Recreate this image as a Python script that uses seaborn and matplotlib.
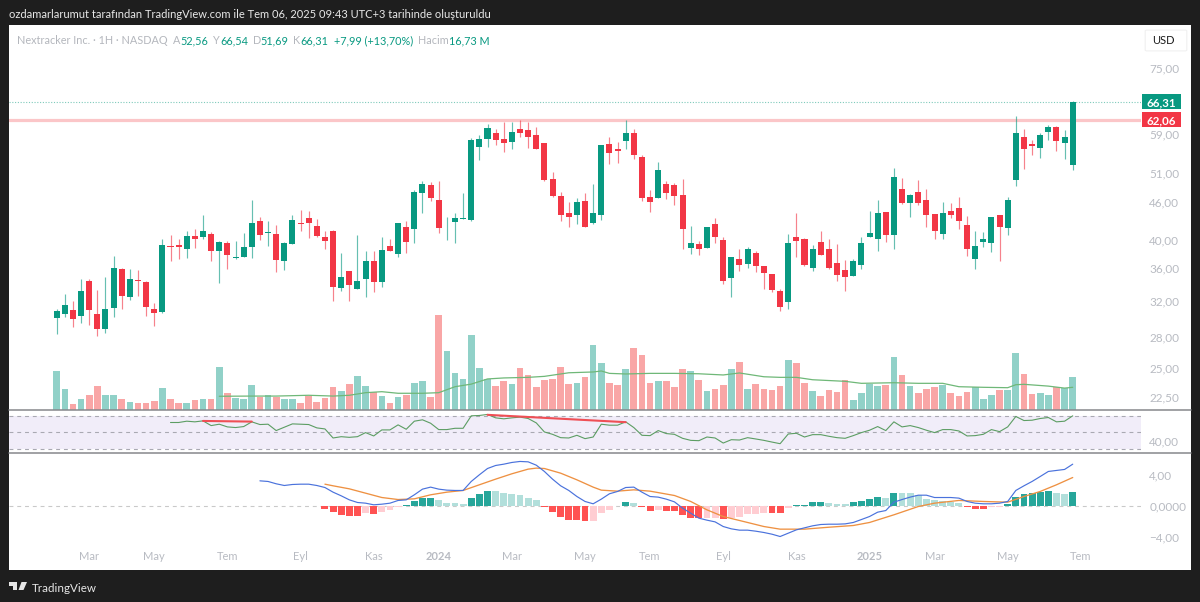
import numpy as np
import pandas as pd
import seaborn as sns
import matplotlib
matplotlib.use("Agg")
import matplotlib.pyplot as plt
from matplotlib.lines import Line2D
from matplotlib.patches import Polygon, FancyBboxPatch, Rectangle
from matplotlib.ticker import NullFormatter, NullLocator

# ---------------- data (weekly candles) ----------------
opens = [30.03,30.47,30.92,30.25,34.35,30.47,28.88,31.15,35.98,32.39,34.52,34.26,31.0,30.7,39.09,39.18,38.71,40.54,40.44,40.84,
 38.42,39.47,37.45,37.59,38.99,42.8,41.05,40.84,37.05,39.37,42.47,43.3,42.06,40.34,41.24,33.5,35.63,33.43,34.6,37.05,
 34.26,39.09,37.95,41.95,41.54,47.5,48.92,46.25,41.85,42.67,43.15,43.0,56.2,57.9,59.2,57.75,57.2,60.05,59.76,58.6,
 57.05,50.0,46.94,44.15,43.83,46.0,42.47,43.72,56.8,55.8,57.45,59.05,54.2,46.82,46.6,49.04,48.92,47.05,38.8,39.37,
 38.8,42.37,39.95,34.77,37.32,36.59,38.05,36.32,35.27,33.19,31.84,40.44,40.05,36.06,39.66,38.71,36.68,35.8,35.0,36.5,
 40.44,40.15,44.25,40.63,48.1,45.8,47.6,46.25,43.94,40.84,44.48,44.9,42.26,37.23,39.66,39.57,43.83,41.75,49.77,58.32,
 56.8,55.95,59.3,60.5,57.05,52.56]
highs = [31.0,32.8,31.92,34.69,34.69,33.27,34.94,37.68,36.06,35.89,35.8,34.43,31.77,40.05,40.63,40.15,41.24,41.54,43.72,41.14,
 39.86,39.86,39.86,41.04,46.18,43.51,42.9,42.16,39.66,43.83,44.59,44.37,43.09,41.34,41.44,38.15,35.63,40.63,38.33,38.42,
 40.44,40.15,42.47,42.89,47.98,49.53,49.41,49.53,43.51,44.15,47.4,57.97,58.75,61.1,60.05,61.5,61.5,61.95,61.5,60.5,
 57.05,51.25,47.6,45.9,46.6,47.4,49.04,56.65,58.2,57.2,61.95,60.05,54.6,47.98,53.15,49.65,49.28,49.9,42.06,39.76,
 41.95,43.3,40.34,37.5,38.62,38.99,38.42,36.32,35.27,33.43,40.84,44.05,40.24,39.18,41.24,40.05,39.37,37.13,37.22,40.34,
 44.37,46.18,44.25,52.0,50.15,47.3,49.77,48.22,43.94,45.9,45.8,46.7,43.62,41.24,41.14,43.51,43.83,46.7,62.9,59.9,
 57.6,59.2,60.95,60.65,59.76,66.54]
lows = [28.33,30.1,29.0,29.5,29.3,28.1,28.4,30.1,31.07,32.08,32.55,30.25,29.1,30.62,37.05,37.32,37.41,38.8,40.15,37.05,
 34.09,35.98,37.22,37.59,37.41,39.95,39.13,35.53,35.8,39.37,41.24,40.24,40.34,38.71,31.99,33.19,31.99,33.35,32.47,33.03,
 33.68,38.33,37.59,38.05,39.57,44.05,46.03,40.94,39.95,39.57,43.09,42.9,53.5,56.1,56.5,55.1,55.65,58.2,55.95,55.65,
 49.5,46.7,42.9,41.85,42.37,41.95,42.37,43.0,52.75,53.0,55.8,53.65,46.03,44.25,46.6,46.48,45.35,38.71,37.95,37.77,
 38.8,39.57,34.0,32.47,35.72,36.06,35.53,33.35,33.03,30.77,31.0,37.59,36.25,35.72,37.86,35.89,34.35,33.11,35.0,35.98,
 40.34,38.42,39.66,38.71,45.6,43.51,45.46,41.85,40.05,40.05,43.3,41.65,37.68,35.89,38.9,38.24,36.95,40.63,48.68,51.9,
 54.6,53.9,57.6,55.4,53.8,51.69]
closes = [30.85,31.45,29.96,33.19,30.92,28.88,31.0,36.06,32.55,34.69,34.35,31.23,30.62,39.18,39.0,38.9,40.54,40.05,41.24,38.33,
 39.66,37.77,37.59,38.9,42.57,40.63,41.2,37.13,39.47,43.0,42.37,42.47,40.54,39.86,33.68,34.94,33.86,34.43,37.05,34.26,
 38.52,38.42,42.47,39.66,47.62,49.04,46.6,41.75,41.95,43.3,43.3,57.6,57.9,60.2,57.6,57.05,59.3,59.2,58.2,55.8,
 49.77,46.9,43.72,43.51,45.9,41.95,44.05,56.65,54.9,55.25,59.05,54.45,46.6,45.9,51.62,47.5,46.94,41.65,39.57,38.71,
 41.95,40.34,34.35,37.5,36.41,38.71,36.32,35.36,33.27,31.23,39.47,39.86,36.5,38.71,37.86,36.06,35.12,34.85,37.05,39.47,
 40.94,44.05,40.74,50.25,45.69,47.17,45.69,43.72,41.24,44.15,43.83,42.9,38.71,39.09,40.15,43.51,41.95,46.18,59.2,55.65,
 56.4,58.75,60.5,57.35,58.2,66.31]
volumes = [19.7,10.4,3.0,5.7,7.7,12.0,7.7,7.4,5.7,4.0,3.3,3.7,4.5,11.0,5.5,3.3,3.3,5.2,5.7,5.7,
 21.7,8.7,6.0,5.7,12.7,6.7,7.7,6.4,5.4,5.4,3.7,7.0,4.0,6.0,11.7,9.5,13.0,17.1,12.0,9.0,
 7.0,3.3,6.7,7.4,13.4,14.7,6.4,47.8,29.4,18.4,15.7,37.5,21.1,15.7,12.0,14.4,13.0,21.1,17.4,11.4,
 15.1,15.4,21.4,13.0,13.4,16.7,32.5,23.8,13.4,12.7,20.4,31.1,27.8,13.7,14.4,14.7,11.4,20.4,19.4,15.1,
 9.5,10.7,12.7,20.6,24.1,10.4,13.0,10.7,10.0,12.0,25.1,23.4,13.4,9.4,7.0,10.0,9.0,15.1,5.0,8.7,
 13.0,12.0,12.4,26.4,17.7,12.0,8.7,10.4,11.4,12.7,8.7,7.0,9.0,11.4,5.7,7.4,10.0,10.0,28.8,18.1,
 8.0,8.4,7.7,11.4,11.0,16.73]
vol_ma_weeks = [21,25,28,32,35,37,39,41,43,46,48,50,52,54,56,59,61,64,67,68,69,71,74,77,80,83,85,88,90,92,94,98,100,104,107,110,112,115,118,119,120,123,125,126]
vol_ma = [6.9,7.0,7.0,7.4,7.0,7.4,8.7,9.2,8.4,8.4,8.7,11.7,13.0,15.6,16.1,16.4,16.9,18.7,19.1,19.6,18.4,18.1,18.4,18.4,18.2,17.6,18.6,16.7,16.4,16.4,15.2,14.4,13.4,13.7,13.4,13.4,11.7,11.4,11.2,12.7,12.9,12.0,11.0,11.4]

rsi_start = 15
rsi = [62.0,62.0,63.6,62.8,64.0,58.2,59.9,56.6,55.8,57.0,62.8,59.5,59.9,52.1,56.2,60.3,59.9,59.5,55.4,54.1,
 43.0,44.6,43.8,44.6,49.6,45.5,52.9,52.9,59.1,53.7,63.6,65.3,61.1,53.3,53.3,54.9,54.9,70.2,70.6,71.9,
 67.7,66.5,67.7,68.6,66.9,61.5,50.4,47.5,43.4,43.0,46.3,42.2,44.2,59.9,58.7,58.7,62.8,55.8,46.3,45.9,
 52.1,48.4,47.5,42.6,40.1,39.7,44.2,43.0,36.8,40.9,40.5,43.4,41.8,40.1,38.0,36.0,47.9,48.8,44.2,47.1,
 47.1,45.1,43.4,42.6,45.9,49.6,52.5,57.0,52.1,62.8,56.6,58.2,55.8,52.5,49.6,53.3,53.3,51.6,45.5,45.9,
 47.5,53.3,50.8,56.6,69.4,64.4,64.8,66.9,68.1,62.8,63.6,70.2]
rsi_trend_a = ([19, 25], [63.9, 63.1])
rsi_trend_b = ([54, 71], [71.4, 62.4])

macd_start = 26
macd = [3.18,3.10,2.80,2.58,2.71,2.75,2.75,2.58,2.32,1.72,1.25,.73,.39,.30,.09,.17,.30,.65,.73,1.38,
 2.11,2.37,2.11,1.98,1.94,1.94,3.10,3.96,4.77,5.16,5.33,5.55,5.68,5.63,5.20,4.39,3.40,2.54,1.94,1.16,
 .52,.22,.82,1.51,1.81,2.32,2.37,1.72,1.16,1.08,.82,.47,-.34,-.99,-1.63,-1.89,-2.11,-2.71,-3.01,-3.18,
 -3.18,-3.31,-3.48,-3.70,-4.0,-3.57,-3.14,-2.88,-2.62,-2.45,-2.41,-2.41,-2.37,-2.19,-1.81,-1.42,-.86,-.65,.43,.77,
 1.08,1.33,1.33,1.03,1.03,1.03,.95,.52,.30,.22,.22,.30,.52,1.94,2.54,3.10,3.74,4.39,4.52,4.65,5.33]
signal_weeks = [34,35,37,39,41,43,45,47,49,51,53,55,57,59,60,61,63,65,67,68,70,72,74,77,79,81,83,86,88,90,93,96,99,101,104,107,109,112,115,118,120,122,124,126]
signal = [2.75,2.54,2.15,1.59,1.03,.77,.86,1.38,1.72,1.94,2.67,3.40,4.09,4.69,4.82,4.77,4.17,3.31,2.37,1.98,1.85,2.02,1.85,1.29,.52,-.56,-1.42,-2.19,-2.71,-3.05,-3.05,-2.80,-2.58,-2.19,-1.20,-.13,.30,.65,.52,.43,1.16,1.81,2.67,3.61]
hist_start = 34
hist = [-.47,-.90,-1.20,-1.33,-1.38,-1.03,-1.08,-.82,-.56,-.13,.02,.52,.99,1.03,.65,.34,.26,.17,1.03,1.42,
 1.85,1.81,1.55,1.46,1.29,1.03,.65,-.17,-.90,-1.51,-1.85,-1.89,-2.06,-2.02,-1.03,-.52,-.04,.39,.34,-.22,
 -.69,-.60,-.73,-.77,-1.20,-1.55,-1.63,-1.57,-1.55,-1.76,-1.59,-1.51,-1.12,-1.10,-.95,-.99,-1.03,-.34,.04,.09,
 .39,.47,.34,.22,.19,.39,.56,.82,1.16,.99,1.63,1.61,1.59,1.29,.86,.65,.52,.43,.34,-.13,
 -.39,-.47,-.22,-.17,.17,1.12,1.46,1.63,1.76,1.89,1.63,1.46,1.76]

resistance = 62.06
last_close = 66.31
price_ticks = [75, 59, 51, 46, 40, 36, 32, 28, 25, 22.5]
rsi_ticks = [40]
macd_ticks = [4, 0, -4]
month_weeks = [5,13,22,31,40,48,57,66,74,83,92,101,109,118,127]
month_labels = ["Mar","May","Tem","Eyl","Kas","2024","Mar","May","Tem","Eyl","Kas","2025","Mar","May","Tem"]
title_text = "ozdamarlarumut tarafından TradingView.com ile Tem 06, 2025 09:43 UTC+3 tarihinde oluşturuldu"

# ---------------- style ----------------
UP, DOWN = "#089981", "#f23645"
VOL_UP, VOL_DOWN = "#91d1c8", "#f9a6a6"
H_UP, H_UP_L, H_DN, H_DN_L = "#26a69a", "#b2dfdb", "#ff5252", "#ffcdd2"
GREY = "#b8bbc2"
TICK_FS = 8.5
sns.set_theme(style="white")
plt.rcParams["font.family"] = ["Lato", "DejaVu Sans"]

W, H = 1200, 602
fig = plt.figure(figsize=(W / 100, H / 100), dpi=100, facecolor="#1e1e1e")
fx = lambda x: x / W
fy = lambda y: 1 - y / H
def pane(y0, y1):
    return fig.add_axes([fx(9), fy(y1), fx(1141 - 9), (y1 - y0) / H])

fig.add_artist(Rectangle((fx(9), fy(570)), fx(1191 - 9), 545 / H, transform=fig.transFigure, fc="white", ec="none", zorder=-5))

XLIM = (-4.87, 134.4)
ax = pane(25, 410)
ax_r = pane(411, 452.5)
ax_m = pane(453, 548)
weeks = np.arange(1, len(closes) + 1)
is_up = np.array(closes) >= np.array(opens)

# volume (own axis behind the candles)
ax_v = ax.twinx()
vdf = pd.DataFrame({"week": weeks, "vol": volumes, "dir": np.where(is_up, "u", "d")})
sns.barplot(data=vdf, x="week", y="vol", hue="dir", palette={"u": VOL_UP, "d": VOL_DOWN}, native_scale=True,
            dodge=False, width=0.82, saturation=1, errorbar=None, linewidth=0, legend=False, ax=ax_v)
sns.lineplot(x=vol_ma_weeks, y=vol_ma, color="#6fb878", lw=0.9, ax=ax_v)
ax_v.set_ylim(0, 193.4)
ax_v.set_xlim(*XLIM)
ax_v.axis("off")
ax.set_zorder(ax_v.get_zorder() + 1)
ax.patch.set_visible(False)

# candles
ax.set_yscale("log")
ax.set_ylim(21.43, 87.8)
ax.set_xlim(*XLIM)
cols = np.where(is_up, UP, DOWN)
ax.vlines(weeks, lows, highs, colors=cols, lw=0.85, alpha=0.62, zorder=3)
body_lo = np.minimum(opens, closes)
body_hi = np.maximum(opens, closes)
ax.bar(weeks, body_hi - body_lo, bottom=body_lo, width=0.74, color=cols, lw=0, zorder=4)
ax.axhline(resistance, color="#fbc6c8", lw=2.3, zorder=2)
ax.axhline(last_close, color="#7fcabb", lw=0.8, ls=(0, (1, 1.5)), zorder=2)

def right_axis(a, ticks, labels, colour=GREY):
    a.yaxis.tick_right()
    a.yaxis.set_minor_locator(NullLocator())
    a.yaxis.set_minor_formatter(NullFormatter())
    a.set_yticks(ticks)
    a.set_yticklabels(labels, color=colour, fontsize=TICK_FS, va="center_baseline")
    a.tick_params(axis="y", length=0, pad=6)
    for s in a.spines.values():
        s.set_visible(False)
    a.set_xticks([])

fmt = lambda v: f"{v:.2f}".replace(".", ",")
right_axis(ax, price_ticks, [fmt(v) for v in price_ticks])

# RSI
ax_r.set_xlim(*XLIM)
ax_r.set_ylim(25.2, 76.1)
ax_r.axhspan(30, 70, color="#f1edf9", lw=0, zorder=0)
for lvl in (70, 50, 30):
    ax_r.axhline(lvl, color="#a9a9b2", lw=0.8, ls=(0, (3.5, 3.5)), zorder=1)
sns.lineplot(x=np.arange(rsi_start, rsi_start + len(rsi)), y=rsi, color="#5c9d63", lw=0.8, ax=ax_r, zorder=3)
for tx, ty in (rsi_trend_a, rsi_trend_b):
    ax_r.plot(tx, ty, color="#ef4f55", lw=1.5, zorder=4)
right_axis(ax_r, rsi_ticks, [fmt(v) for v in rsi_ticks])

# MACD
ax_m.set_xlim(*XLIM)
ax_m.set_ylim(-5.48, 6.77)
ax_m.axhline(0, color="#c9c9c9", lw=0.8, ls=(0, (3.5, 3.5)), zorder=0)
hw = np.arange(hist_start, hist_start + len(hist))
hv = np.array(hist)
prev = np.r_[0, hv[:-1]]
hk = np.where(hv >= 0, np.where(hv >= prev, "tu", "tl"), np.where(hv < prev, "rd", "rl"))
hdf = pd.DataFrame({"week": hw, "hist": hv, "kind": hk})
sns.barplot(data=hdf, x="week", y="hist", hue="kind",
            palette={"tu": H_UP, "tl": H_UP_L, "rd": H_DN, "rl": H_DN_L}, native_scale=True, dodge=False,
            width=0.85, saturation=1, errorbar=None, linewidth=0, legend=False, ax=ax_m, zorder=2)
sns.lineplot(x=np.arange(macd_start, macd_start + len(macd)), y=macd, color="#4a72dc", lw=0.85, ax=ax_m, zorder=4)
sns.lineplot(x=signal_weeks, y=signal, color="#ee9142", lw=0.95, ax=ax_m, zorder=3)
ax_m.set_xlim(*XLIM)
right_axis(ax_m, macd_ticks, ["4,00", "0,0000", "\u22124,00"])
ax_m.set_xlabel(""); ax_m.set_ylabel("")
ax_m.set_xticks(month_weeks)
ax_m.set_xticklabels(month_labels, fontsize=8.0, color=GREY)
ax_m.tick_params(axis="x", length=0, pad=2.5)
for lab, txt in zip(ax_m.get_xticklabels(), month_labels):
    if txt.isdigit():
        lab.set_fontweight("bold")
for a in (ax_v, ax_r, ax_m):
    a.set_xlabel(""); a.set_ylabel("")

# pane separators
for y in (410, 452.7):
    fig.add_artist(Line2D([fx(9), fx(1191)], [fy(y), fy(y)], color="#86888c", lw=1.1, zorder=10))

# price tags
for val, col, s in ((last_close, UP, "66,31"), (resistance, DOWN, "62,06")):
    ty = fig.transFigure.inverted().transform(ax.transData.transform((1, val)))[1]
    fig.add_artist(Rectangle((fx(1142), ty - 7.5 / H), fx(39), 15 / H, transform=fig.transFigure, fc=col, ec="none", zorder=11))
    fig.text(fx(1161.5), ty, s, color="white", fontsize=8.3, fontweight="bold", ha="center", va="center_baseline", zorder=12)

# USD button
fig.add_artist(FancyBboxPatch((fx(1147), fy(50)), fx(38), 19 / H, boxstyle="round,pad=0.0015", transform=fig.transFigure,
                              fc="white", ec="#f0f0f0", lw=0.8, zorder=5))
fig.text(fx(1163.5), fy(40), "USD", color="#1a1a1a", fontsize=8.0, ha="center", va="center_baseline", zorder=6)

# header legend
HEAD = "#b4b7bd"; TEAL = "#089981"
for x, s, c in ((16.7, "Nextracker Inc. · 1H · NASDAQ", HEAD), (173, "A", HEAD), (180, "52,56", TEAL), (213, "Y", HEAD),
                (220, "66,54", TEAL), (253, "D", HEAD), (260, "51,69", TEAL), (293, "K", HEAD), (300, "66,31", TEAL),
                (334, "+7,99 (+13,70%)", TEAL), (418, "Hacim", HEAD), (449, "16,73 M", TEAL)):
    fig.text(fx(x), fy(39.5), s, color=c, fontsize=7.8, ha="left", va="center_baseline")

# title + logo
fig.text(fx(9), fy(14), title_text, color="#e8e8e8", fontsize=8.0, ha="left", va="center_baseline")
fig.text(fx(32), fy(587), "TradingView", color="#e6e6e6", fontsize=8.4, ha="left", va="center_baseline")
for pts in ([(9, 582), (17, 582), (17, 590), (13, 590), (13, 585.5), (9, 585.5)],
            [(21.5, 582), (27, 582), (23.5, 590), (18.5, 590)]):
    fig.add_artist(Polygon([(fx(a), fy(b)) for a, b in pts], transform=fig.transFigure, fc="#e6e6e6", ec="none"))

assert all(len(v) == 126 for v in (opens, highs, lows, closes, volumes))
assert len(rsi) == 112 and len(macd) == 101 and len(hist) == 93
fig.savefig("out.png", dpi=100, facecolor=fig.get_facecolor())
